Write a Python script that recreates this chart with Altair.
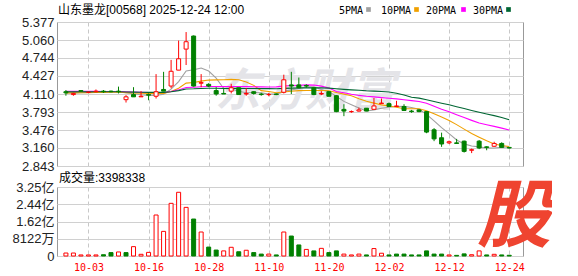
import altair as alt
import pandas as pd

dates = ["2025-09-29","2025-09-30","2025-10-02","2025-10-03","2025-10-06","2025-10-08","2025-10-09","2025-10-10",
         "2025-10-13","2025-10-14","2025-10-15","2025-10-16","2025-10-17","2025-10-20","2025-10-21","2025-10-22",
         "2025-10-23","2025-10-24","2025-10-27","2025-10-28","2025-10-30","2025-10-31","2025-11-03","2025-11-04",
         "2025-11-05","2025-11-06","2025-11-07","2025-11-10","2025-11-11","2025-11-12","2025-11-13","2025-11-14",
         "2025-11-17","2025-11-18","2025-11-19","2025-11-20","2025-11-21","2025-11-24","2025-11-25","2025-11-26",
         "2025-11-27","2025-11-28","2025-12-01","2025-12-02","2025-12-03","2025-12-04","2025-12-05","2025-12-08",
         "2025-12-09","2025-12-10","2025-12-11","2025-12-12","2025-12-15","2025-12-16","2025-12-17","2025-12-18",
         "2025-12-19","2025-12-22","2025-12-23","2025-12-24"]

opens = [4.15,4.10,4.17,4.14,4.15,4.16,4.16,4.16,4.01,4.10,4.06,4.10,4.07,4.19,4.25,4.53,4.90,5.13,4.30,4.28,
         4.17,4.12,4.16,4.22,4.11,4.15,4.11,4.10,4.11,4.14,4.27,4.27,4.26,4.22,4.11,4.15,4.08,3.84,3.80,3.81,
         3.86,3.84,3.94,3.94,3.89,3.89,3.81,3.83,3.80,3.48,3.34,3.25,3.25,3.28,3.12,3.28,3.18,3.19,3.24,3.17]
highs = [4.18,4.13,4.18,4.15,4.19,4.18,4.17,4.24,4.09,4.23,4.16,4.12,4.46,4.50,4.71,5.05,5.20,5.14,4.46,4.30,
         4.23,4.22,4.29,4.22,4.21,4.16,4.13,4.13,4.12,4.45,4.50,4.40,4.28,4.23,4.16,4.16,4.09,3.93,3.82,3.87,
         3.86,4.04,4.03,3.96,3.99,3.93,3.83,3.84,3.81,3.51,3.43,3.29,3.32,3.29,3.15,3.30,3.19,3.27,3.26,3.17]
lows = [4.08,4.08,4.15,4.13,4.14,4.13,4.14,4.12,3.96,4.06,4.06,4.00,4.03,4.16,4.21,4.53,4.62,4.24,4.23,4.23,
        4.08,4.11,4.12,4.10,4.08,4.10,4.08,4.07,4.09,4.12,4.11,4.21,4.22,4.09,4.09,4.07,3.79,3.72,3.78,3.80,
        3.81,3.84,3.94,3.89,3.88,3.82,3.78,3.79,3.42,3.28,3.18,3.23,3.23,3.08,3.07,3.14,3.12,3.18,3.17,3.15]
closes = [4.13,4.12,4.16,4.14,4.16,4.15,4.15,4.15,4.06,4.06,4.07,4.09,4.15,4.16,4.51,4.73,5.03,4.25,4.31,4.25,
          4.11,4.11,4.22,4.10,4.12,4.12,4.10,4.10,4.10,4.36,4.25,4.22,4.25,4.10,4.12,4.07,3.80,3.81,3.80,3.83,
          3.81,3.90,3.95,3.89,3.90,3.82,3.80,3.80,3.44,3.32,3.23,3.27,3.24,3.10,3.13,3.16,3.17,3.24,3.17,3.16]

ma5 = [4.130,4.128,4.134,4.136,4.142,4.146,4.152,4.150,4.134,4.114,4.098,4.086,4.086,4.106,4.196,4.328,4.516,4.536,4.566,4.514,
       4.390,4.206,4.200,4.158,4.132,4.134,4.132,4.108,4.108,4.156,4.182,4.206,4.236,4.236,4.188,4.152,4.068,3.980,3.920,3.862,
       3.810,3.830,3.858,3.876,3.890,3.892,3.872,3.842,3.752,3.636,3.518,3.412,3.300,3.232,3.194,3.180,3.160,3.160,3.174,3.180]
ma10 = [4.130,4.129,4.132,4.133,4.136,4.138,4.140,4.142,4.135,4.128,4.122,4.119,4.118,4.120,4.155,4.213,4.301,4.311,4.336,4.355,
        4.359,4.361,4.368,4.362,4.323,4.262,4.169,4.154,4.133,4.144,4.158,4.169,4.172,4.172,4.172,4.167,4.137,4.108,4.078,4.025,
        3.981,3.949,3.919,3.898,3.876,3.851,3.851,3.850,3.814,3.763,3.705,3.642,3.571,3.492,3.415,3.349,3.286,3.230,3.203,3.187]
ma20 = [4.159,4.157,4.157,4.156,4.156,4.155,4.155,4.154,4.149,4.144,4.140,4.136,4.136,4.136,4.153,4.182,4.225,4.230,4.237,4.242,
        4.241,4.240,4.243,4.241,4.239,4.238,4.235,4.233,4.235,4.250,4.259,4.265,4.270,4.267,4.248,4.215,4.153,4.131,4.106,4.085,
        4.070,4.059,4.046,4.035,4.024,4.009,3.994,3.979,3.946,3.894,3.843,3.796,3.745,3.695,3.646,3.600,3.569,3.540,3.509,3.475]
ma30 = [4.149,4.148,4.149,4.148,4.149,4.149,4.149,4.149,4.146,4.143,4.140,4.138,4.138,4.138,4.150,4.170,4.199,4.202,4.208,4.211,
        4.210,4.208,4.211,4.209,4.208,4.207,4.205,4.204,4.202,4.209,4.213,4.216,4.219,4.218,4.217,4.214,4.202,4.191,4.182,4.175,
        4.166,4.160,4.153,4.144,4.124,4.093,4.052,4.037,4.008,3.977,3.948,3.920,3.887,3.854,3.821,3.789,3.758,3.729,3.698,3.658]

volumes = [14000000,14000000,5000000,5000000,5000000,6000000,16000000,19000000,16000000,44000000,
           8000000,17000000,193000000,116000000,248000000,300000000,229000000,174000000,113000000,42000000,
           28000000,24000000,41000000,20000000,27000000,16000000,9000000,9000000,5000000,113000000,
           94000000,52000000,31000000,24000000,36000000,16000000,24000000,9000000,5000000,9000000,
           5000000,35000000,13000000,5000000,9000000,9000000,5000000,5000000,24000000,9000000,
           9000000,5000000,3000000,10000000,6000000,24000000,5000000,8000000,5000000,3398338]
vol_up = [1,1,1,1,1,0,0,1,0,1, 1,1,1,1,1,1,1,0,1,0, 0,1,1,0,1,0,0,1,0,1,
          0,0,1,0,1,0,0,1,1,1, 0,1,1,0,0,0,0,0,0,0, 0,1,0,0,1,1,0,1,0,0]

price_ticks = [2.843, 3.160, 3.476, 3.793, 4.110, 4.427, 4.744, 5.060, 5.377]
vol_ticks = [0, 81220000, 162440000, 243660000, 324880000]
vol_tick_labels = ["0", "8122万", "1.62亿", "2.44亿", "3.25亿"]
date_ticks = ["10-03", "10-16", "10-28", "11-10", "11-20", "12-02", "12-12", "12-24"]
ma_names = ["5PMA", "10PMA", "20PMA", "30PMA"]
ma_colors = ["#a0a0a0", "#f0a000", "#ff00ff", "#006633"]
title_text = "山东墨龙[00568] 2025-12-24 12:00"
vol_title = "成交量:3398338"
watermark = "东方财富"
logo = "股"

RED = "#ff0000"
GREEN = "#008000"
CJK = "'Liberation Sans', 'Noto Sans CJK SC', sans-serif"
MONO = "'DejaVu Sans Mono', monospace"

short = [d[5:] for d in dates]
tick_idx = [short.index(t) for t in date_ticks]

df = pd.DataFrame({
    "i": list(range(len(dates))), "date": dates,
    "open": opens, "high": highs, "low": lows, "close": closes,
    "volume": volumes, "up": vol_up,
})
ma_df = pd.DataFrame({"i": list(range(len(dates))), "5PMA": ma5, "10PMA": ma10, "20PMA": ma20, "30PMA": ma30})
ma_long = ma_df.melt(id_vars="i", var_name="name", value_name="value")

xscale = alt.Scale(domain=[-0.52, 60.17], nice=False, zero=False)
x_price = alt.X("i:Q", scale=xscale, title=None,
                axis=alt.Axis(values=tick_idx, labels=False, ticks=False, domain=False, grid=True,
                              gridDash=[4, 3], gridColor="#c8c8c8"))
label_expr = "[" + ",".join("'%s'" % s for s in short) + "][datum.value]"
x_vol = alt.X("i:Q", scale=xscale, title=None,
              axis=alt.Axis(values=tick_idx, labelExpr=label_expr, ticks=False, domain=False, grid=True,
                            gridDash=[4, 3], gridColor="#c8c8c8", labelColor=RED, labelFont=MONO,
                            labelFontSize=10, labelPadding=6))

yscale = alt.Scale(domain=[2.843, 5.377], nice=False, zero=False)
y_axis = alt.Axis(values=price_ticks, format=".3f", title=None, gridColor="#d0d0d0")

is_up = alt.datum.close >= alt.datum.open

wm = alt.Chart(pd.DataFrame({"t": [watermark]})).mark_text(
    fontSize=45, font="Noto Sans CJK SC", fontWeight="bold", fontStyle="italic",
    color="#e4e4e8", align="center", baseline="middle"
).encode(text="t:N", x=alt.value(248), y=alt.value(70))

lines = alt.Chart(ma_long).mark_line(strokeWidth=1.1).encode(
    x=x_price,
    y=alt.Y("value:Q", scale=yscale, axis=y_axis),
    color=alt.Color("name:N", scale=alt.Scale(domain=ma_names, range=ma_colors), legend=None),
    order="i:Q",
)

base = alt.Chart(df)
wicks = base.mark_rule(strokeWidth=1).encode(
    x=x_price,
    y=alt.Y("low:Q", scale=yscale, axis=y_axis),
    y2="high:Q",
    color=alt.condition(is_up, alt.value(RED), alt.value(GREEN)),
)
bodies = base.mark_bar(size=4, strokeWidth=1).encode(
    x=x_price,
    y=alt.Y("open:Q", scale=yscale, axis=y_axis),
    y2="close:Q",
    fill=alt.condition(is_up, alt.value("white"), alt.value(GREEN)),
    stroke=alt.condition(is_up, alt.value(RED), alt.value(GREEN)),
)

title = alt.Chart(pd.DataFrame({"t": [title_text]})).mark_text(
    font=CJK, fontSize=12, color="#000", align="left", baseline="alphabetic"
).encode(text="t:N", x=alt.value(1), y=alt.value(-8))

legend_layers = []
text_x = [282, 324, 369, 416]
sq_x = [311.5, 359.5, 406.5, 451.5]
for k, (nm, col) in enumerate(zip(ma_names, ma_colors)):
    legend_layers.append(
        alt.Chart(pd.DataFrame({"t": [nm]})).mark_text(
            font=MONO, fontSize=10, color="#000", align="left", baseline="alphabetic"
        ).encode(text="t:N", x=alt.value(text_x[k]), y=alt.value(-8.5))
    )
    legend_layers.append(
        alt.Chart(pd.DataFrame({"t": [nm]})).mark_square(size=22, opacity=1, color=col).encode(
            x=alt.value(sq_x[k]), y=alt.value(-12.5))
    )

anchor = alt.Chart(pd.DataFrame({"t": [0]})).mark_rule(opacity=0).encode(
    x=alt.value(-56), x2=alt.value(0), y=alt.value(-21))

price = alt.layer(wm, lines, wicks, bodies, title, *legend_layers, anchor).properties(width=466, height=144)

vol_label_expr = "[" + ",".join("'%s'" % s for s in vol_tick_labels) + "][indexof([" + \
    ",".join(str(v) for v in vol_ticks) + "], datum.value)]"
vbars = base.mark_bar(size=4, strokeWidth=1).encode(
    x=x_vol,
    y=alt.Y("volume:Q", scale=alt.Scale(domain=[0, 324880000], nice=False),
            axis=alt.Axis(values=vol_ticks, labelExpr=vol_label_expr, title=None, gridColor="#d0d0d0")),
    fill=alt.condition(alt.datum.up == 1, alt.value("white"), alt.value(GREEN)),
    stroke=alt.condition(alt.datum.up == 1, alt.value(RED), alt.value(GREEN)),
)
vtitle = alt.Chart(pd.DataFrame({"t": [vol_title]})).mark_text(
    font=CJK, fontSize=12, color="#000", align="left", baseline="alphabetic"
).encode(text="t:N", x=alt.value(2), y=alt.value(-5))
vlogo = alt.Chart(pd.DataFrame({"t": [logo]})).mark_text(
    font="Noto Sans CJK SC", fontSize=74, fontWeight="bold", fontStyle="italic",
    color="#ef4430", align="center", baseline="middle"
).encode(text="t:N", x=alt.value(457), y=alt.value(32))

volume = alt.layer(vbars, vtitle, vlogo).properties(width=466, height=69)

chart = alt.vconcat(price, volume, spacing=21, bounds="flush").properties(
    padding={"left": 0, "top": 0, "right": 0, "bottom": 0}
).configure_view(stroke="#999999").configure_axis(
    domain=False, ticks=False, labelFont=CJK, labelFontSize=13, labelColor="#222222",
    labelPadding=3, gridWidth=1
)

chart.save("out.html", embed_options={"renderer": "svg", "actions": False})
